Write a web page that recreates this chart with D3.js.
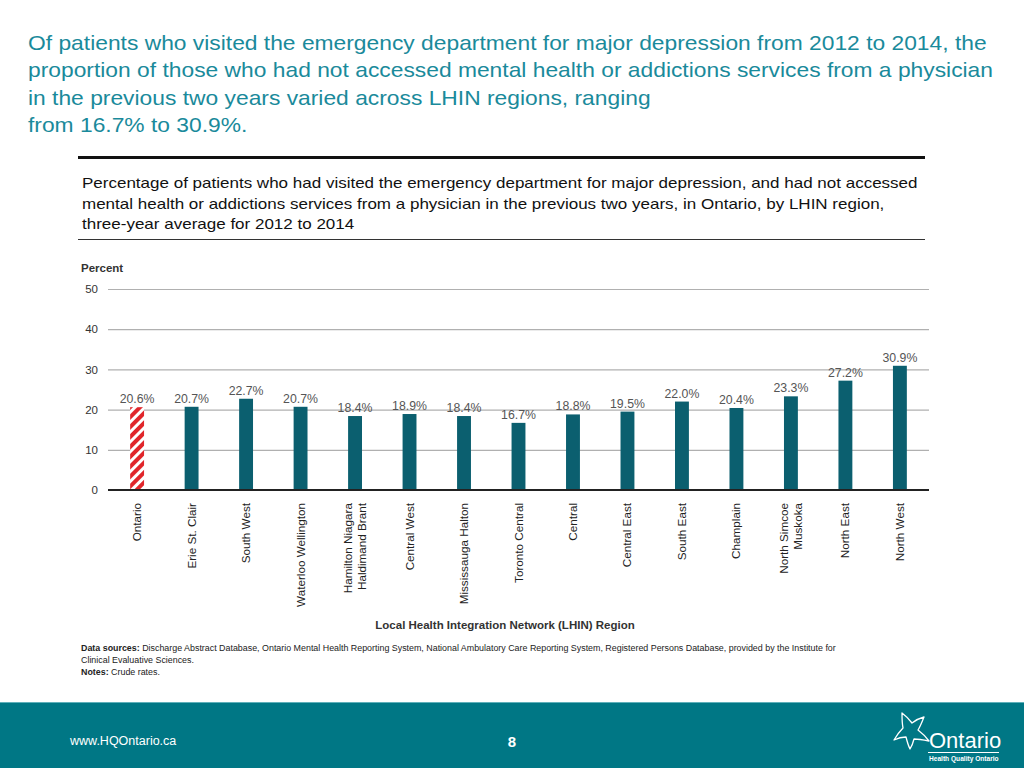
<!DOCTYPE html>
<html><head><meta charset="utf-8">
<script src="https://cdn.jsdelivr.net/npm/d3@7"></script>
<style>
body{margin:0;background:#fff;}
svg{display:block;font-family:"Liberation Sans",Arial,sans-serif;}
</style></head>
<body><svg id="c" width="1024" height="768"></svg>
<script>
const categories = ["Ontario","Erie St. Clair","South West","Waterloo Wellington","Hamilton Niagara|Haldimand Brant","Central West","Mississauga Halton","Toronto Central","Central","Central East","South East","Champlain","North Simcoe|Muskoka","North East","North West"];
const values = [20.6,20.7,22.7,20.7,18.4,18.9,18.4,16.7,18.8,19.5,22.0,20.4,23.3,27.2,30.9];
const yTicks = [0,10,20,30,40,50];
const titleLines = ["Of patients who visited the emergency department for major depression from 2012 to 2014, the","proportion of those who had not accessed mental health or addictions services from a physician","in the previous two years varied across LHIN regions, ranging","from 16.7% to 30.9%."];
const subtitleLines = ["Percentage of patients who had visited the emergency department for major depression, and had not accessed","mental health or addictions services from a physician in the previous two years, in Ontario, by LHIN region,","three-year average for 2012 to 2014"];

const svg = d3.select("#c");
const defs = svg.append("defs");
const pat = defs.append("pattern").attr("id","hatch").attr("patternUnits","userSpaceOnUse")
  .attr("width",7).attr("height",7).attr("patternTransform","rotate(-45)");
pat.append("rect").attr("width",7).attr("height",7).attr("fill","#fff");
pat.append("rect").attr("width",7).attr("height",4).attr("fill","#e0262b");

function fitText(sel, factor){
  sel.each(function(){
    const w = this.getComputedTextLength();
    d3.select(this).attr("textLength", w*factor).attr("lengthAdjust","spacingAndGlyphs");
  });
}

// Title
const tt = svg.append("g").selectAll("text").data(titleLines).join("text")
  .attr("x",28).attr("y",(d,i)=>50+i*27.3).attr("fill","#1a8a9b")
  .attr("font-size",21).text(d=>d);
fitText(tt, 957/ (860*21/20.5));

svg.append("line").attr("x1",78).attr("x2",925).attr("y1",157.5).attr("y2",157.5).attr("stroke","#111").attr("stroke-width",3);
const st = svg.append("g").selectAll("text").data(subtitleLines).join("text")
  .attr("x",82).attr("y",(d,i)=>188+i*20.5).attr("fill","#111").attr("font-size",15).text(d=>d);
fitText(st, 835/(717*15/14.6));
svg.append("line").attr("x1",78).attr("x2",925).attr("y1",239.5).attr("y2",239.5).attr("stroke","#333").attr("stroke-width",1);

// Scales
const x = d3.scaleBand().domain(categories).range([110,927]).paddingInner(0.745).paddingOuter(0.37);
const y = d3.scaleLinear().domain([0,50]).range([490,289]);

svg.append("text").attr("x",81).attr("y",272).attr("font-size",11.5).attr("fill","#333").attr("font-weight","bold").text("Percent");

const yAxis = svg.append("g").attr("transform","translate(108,0)")
  .call(d3.axisLeft(y).tickValues(yTicks).tickSize(-821).tickPadding(10));
yAxis.select(".domain").remove();
yAxis.selectAll(".tick line").attr("stroke","#b0b0b0").attr("stroke-width",1.2);
yAxis.selectAll(".tick text").attr("font-size",11.5).attr("fill","#333").attr("font-family","Liberation Sans, Arial, sans-serif");

// bars
svg.append("g").selectAll("rect").data(categories).join("rect")
  .attr("x",d=>x(d)).attr("width",x.bandwidth())
  .attr("y",(d,i)=>y(values[i])).attr("height",(d,i)=>y(0)-y(values[i]))
  .attr("fill",(d,i)=>i===0?"url(#hatch)":"#0b5f6f");

// baseline
svg.append("line").attr("x1",108).attr("x2",929).attr("y1",490).attr("y2",490).attr("stroke","#222").attr("stroke-width",2);

// value labels
svg.append("g").selectAll("text").data(categories).join("text")
  .attr("x",d=>x(d)+x.bandwidth()/2).attr("y",(d,i)=>y(values[i])-4)
  .attr("text-anchor","middle").attr("font-size",12.3).attr("fill","#555")
  .text((d,i)=>values[i].toFixed(1)+"%");

// category labels
const cl = svg.append("g").selectAll("g").data(categories).join("g")
  .attr("transform",d=>`translate(${x(d)+x.bandwidth()/2},503) rotate(-90)`);
cl.each(function(d){
  const parts = d.split("|");
  const n = parts.length;
  d3.select(this).selectAll("text").data(parts).join("text")
    .attr("x",0).attr("y",(p,j)=>(j-(n-1)/2)*13.5+4)
    .attr("text-anchor","end").attr("font-size",11.7).attr("fill","#222").text(p=>p);
});

svg.append("text").attr("x",505).attr("y",629).attr("text-anchor","middle").attr("font-size",11.5)
  .attr("font-weight","bold").attr("fill","#333").text("Local Health Integration Network (LHIN) Region");

// sources
const src = svg.append("g").attr("font-size",8.9).attr("fill","#222");
const t1 = src.append("text").attr("x",81).attr("y",651);
t1.append("tspan").attr("font-weight","bold").text("Data sources: ");
t1.append("tspan").text("Discharge Abstract Database, Ontario Mental Health Reporting System, National Ambulatory Care Reporting System, Registered Persons Database, provided by the Institute for");
src.append("text").attr("x",81).attr("y",663).text("Clinical Evaluative Sciences.");
const t3 = src.append("text").attr("x",81).attr("y",675);
t3.append("tspan").attr("font-weight","bold").text("Notes: ");
t3.append("tspan").text("Crude rates.");

// footer
svg.append("rect").attr("x",0).attr("y",702).attr("width",1024).attr("height",66).attr("fill","#007785");
svg.append("line").attr("x1",0).attr("x2",1024).attr("y1",702.5).attr("y2",702.5).attr("stroke","#5fb0ba").attr("stroke-width",1);
svg.append("text").attr("x",70).attr("y",745).attr("fill","#fff").attr("font-size",12.5).text("www.HQOntario.ca");
svg.append("text").attr("x",512).attr("y",747).attr("fill","#fff").attr("font-size",15).attr("font-weight","bold").attr("text-anchor","middle").text("8");

// logo
const logo = svg.append("g");
logo.append("path").attr("d","M902,713 C906,716 909,719 912,723 C916,720 920,718 924,717 C922,722 920,727 918,730 C922,733 926,737 929,741 C924,740 919,739 914,739 C913,743 912,746 910,749 C908,745 907,741 906,737 C902,737 898,738 894,740 C897,735 900,731 903,728 C902,723 902,718 902,713 Z")
  .attr("fill","none").attr("stroke","#fff").attr("stroke-width",1.3).attr("stroke-linejoin","round");
logo.append("text").attr("x",929).attr("y",748).attr("fill","#fff").attr("font-size",22).text("Ontario");
logo.append("line").attr("x1",928).attr("x2",999).attr("y1",752.5).attr("y2",752.5).attr("stroke","#fff").attr("stroke-width",1);
logo.append("text").attr("x",929).attr("y",761).attr("fill","#fff").attr("font-size",6.6).attr("font-weight","bold").text("Health Quality Ontario");
</script></body></html>
